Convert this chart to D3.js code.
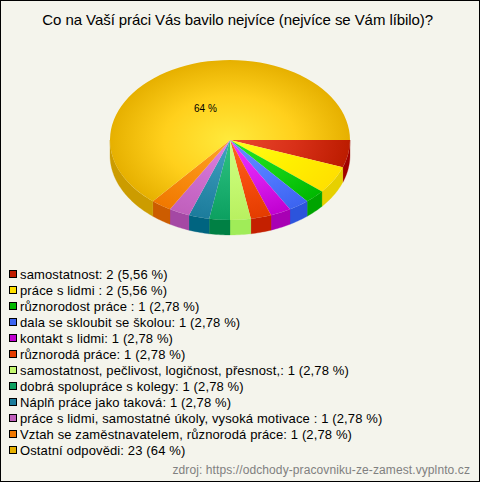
<!DOCTYPE html>
<html><head><meta charset="utf-8">
<script src="https://cdn.jsdelivr.net/npm/d3@7"></script>
<style>html,body{margin:0;padding:0;background:#f4f4ec}svg{display:block}text{font-family:"Liberation Sans",Arial,sans-serif}</style>
</head><body>
<svg id="c" width="480" height="482"></svg>
<script>
const chartTitle = "Co na Vaší práci Vás bavilo nejvíce (nejvíce se Vám líbilo)?";
const sourceNote = "zdroj: https://odchody-pracovniku-ze-zamest.vyplnto.cz";
const categories = ["samostatnost","práce s lidmi ","různorodost práce ","dala se skloubit se školou","kontakt s lidmi","různorodá práce","samostatnost, pečlivost, logičnost, přesnost,","dobrá spolupráce s kolegy","Náplň práce jako taková","práce s lidmi, samostatné úkoly, vysoká motivace ","Vztah se zaměstnavatelem, různorodá práce","Ostatní odpovědi"];
const counts = [2,2,1,1,1,1,1,1,1,1,1,23];
const percents = ["5,56 %","5,56 %","2,78 %","2,78 %","2,78 %","2,78 %","2,78 %","2,78 %","2,78 %","2,78 %","2,78 %","64 %"];
const innerColors = ["#ea482e","#ffff1e","#24e824","#6490ff","#f034ff","#ff6420","#d0ff84","#30c482","#44a4c4","#e284e2","#ffa428","#ffea3c"];
const midColors   = ["#d83018","#fff000","#14d014","#5078ff","#d81cec","#f44c0c","#c4f870","#1cb070","#2c8cac","#cc6ccc","#f88c10","#ffd01c"];
const outerColors = ["#bc1c00","#ffe000","#00b800","#3c64f0","#c000d0","#e43c00","#b8f060","#0ca060","#1c7c9c","#c060bc","#f07800","#e6b000"];
const sideColors  = ["#a00000","#e6d000","#00a400","#2c54dc","#a800b4","#c42000","#a0ec58","#008044","#006480","#a448a4","#cc5c00","#cc9c00"];
const swatchColors= ["#c01c00","#ffe000","#00b800","#3c64f0","#c000d0","#e43c00","#c4f870","#0ca060","#1c7c9c","#c060bc","#f07800","#e6b000"];

const W = 480, H = 482, cx = 230, cy = 140, rx = 120, ry = 80, depth = 15;
const svg = d3.select("#c");
svg.append("rect").attr("x",.5).attr("y",.5).attr("width",W-1).attr("height",H-1).attr("fill","#f4f4ec").attr("stroke","#000");
svg.append("text").attr("x",237.7).attr("y",25).attr("text-anchor","middle").attr("font-size",15).attr("letter-spacing",-0.07).attr("fill","#000").text(chartTitle);

const pie = d3.pie().sort(null).startAngle(Math.PI/2).endAngle(Math.PI/2+2*Math.PI)(counts);
const arc = d3.arc().innerRadius(0).outerRadius(rx);
const defs = svg.append("defs");
defs.selectAll("radialGradient").data(pie).join("radialGradient")
  .attr("id",(d,i)=>"g"+i).attr("gradientUnits","userSpaceOnUse")
  .attr("cx",0).attr("cy",0).attr("r",rx)
  .selectAll("stop").data((d,i)=>[[0,innerColors[i]],[.55,midColors[i]],[1,outerColors[i]]]).join("stop")
  .attr("offset",d=>d[0]).attr("stop-color",d=>d[1]);

const ex = a => cx + rx*Math.sin(a), ey = a => cy - ry*Math.cos(a);
const sides = pie.map((d,i)=>{
  const a0 = Math.max(d.startAngle, Math.PI/2), a1 = Math.min(d.endAngle, Math.PI*1.5);
  if (a1 <= a0) return null;
  const n = Math.max(4, Math.ceil((a1-a0)/0.02));
  const angles = d3.range(n+1).map(k=>a0+(a1-a0)*k/n);
  return {i, d: d3.area().x(ex).y0(ey).y1(a=>ey(a)+depth)(angles)};
}).filter(Boolean);
svg.append("g").selectAll("path").data(sides).join("path").attr("d",s=>s.d).attr("fill",s=>sideColors[s.i]).attr("stroke",s=>sideColors[s.i]).attr("stroke-width",.3);

svg.append("g").attr("transform",`translate(${cx},${cy}) scale(1,${ry/rx})`)
  .selectAll("path").data(pie).join("path").attr("d",arc).attr("fill",(d,i)=>`url(#g${i})`);

svg.append("text").attr("x",205.5).attr("y",111.5).attr("text-anchor","middle").attr("font-size",10).attr("letter-spacing",0.1).attr("fill","#000").text(percents[11]);

const legend = svg.append("g").selectAll("g").data(categories).join("g")
  .attr("transform",(d,i)=>`translate(0,${274+i*16})`);
legend.append("rect").attr("x",9.5).attr("y",-3.5).attr("width",7).attr("height",7).attr("fill",(d,i)=>swatchColors[i]).attr("stroke","#000");
legend.append("text").attr("x",20).attr("y",5).attr("font-size",13).attr("letter-spacing",0.13).attr("fill","#000")
  .style("white-space","pre")
  .text((d,i)=>`${d}: ${counts[i]} (${percents[i]})`);

svg.append("text").attr("x",470).attr("y",474).attr("text-anchor","end").attr("font-size",12).attr("letter-spacing",0.1).attr("fill","#808080").text(sourceNote);
</script>
</body></html>
